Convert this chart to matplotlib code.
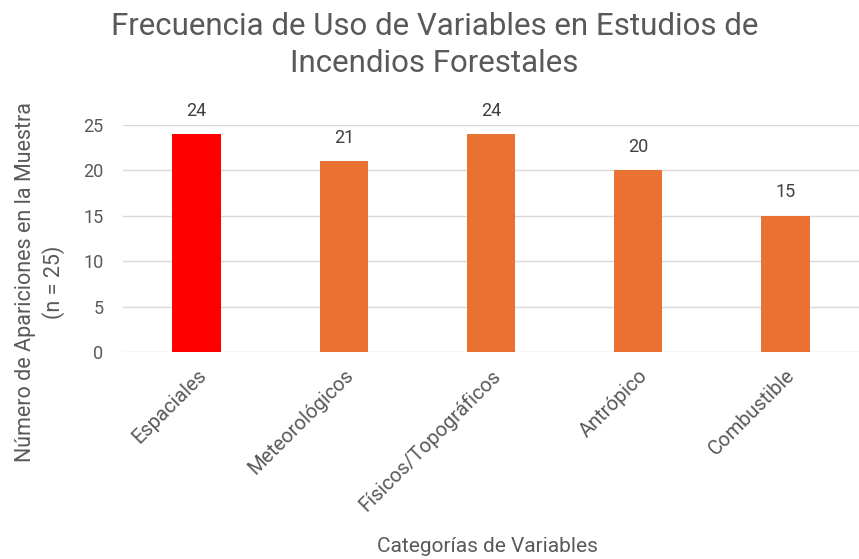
import matplotlib.pyplot as plt
from matplotlib.transforms import ScaledTranslation

# Data
categories = ["Espaciales", "Meteorológicos", "Físicos/Topográficos", "Antrópico", "Combustible"]
values = [24, 21, 24, 20, 15]
colors = ["#FF0000", "#E97132", "#E97132", "#E97132", "#E97132"]
y_ticks = [0, 5, 10, 15, 20, 25]

plt.rcParams['font.family'] = ['Roboto', 'DejaVu Sans']
text_col = "#595959"

fig = plt.figure(figsize=(8.59, 5.59), dpi=100)
ax = fig.add_axes([123/859, 1 - 352/559, (859 - 123)/859, (352 - 125)/559])

x = list(range(len(categories)))
bars = ax.bar(x, values, width=0.33, color=colors, zorder=3)
for b, v in zip(bars, values):
    ax.text(b.get_x() + b.get_width()/2, v + 1.6, str(v), ha='center', va='bottom',
            fontsize=13, color="#404040")

ax.set_xlim(-0.5, len(categories) - 0.5)
ax.set_ylim(0, 25)
ax.set_yticks(y_ticks)
ax.set_yticklabels([str(t) for t in y_ticks], fontsize=13, color=text_col)
ax.set_xticks(x)
ax.set_xticklabels(categories, rotation=45, ha='right', rotation_mode='anchor',
                   fontsize=14.5, color=text_col)
# shift rotated labels a little right, like the original
for lbl in ax.get_xticklabels():
    lbl.set_transform(lbl.get_transform() + ScaledTranslation(8/100, 0, fig.dpi_scale_trans))
ax.tick_params(axis='both', length=0)
ax.tick_params(axis='y', pad=14)
ax.tick_params(axis='x', pad=10)
ax.grid(axis='y', color="#D9D9D9", linewidth=1, zorder=0)
for s in ax.spines.values():
    s.set_visible(False)

fig.text(0.506, 1 - 12/559, "Frecuencia de Uso de Variables en Estudios de\nIncendios Forestales",
         ha='center', va='top', fontsize=22.5, color=text_col, linespacing=1.35)
fig.text(0.047, 0.495, "Número de Apariciones en la Muestra\n(n = 25)", ha='center', va='center',
         rotation=90, fontsize=15.5, color=text_col, linespacing=1.35)
fig.text(0.568, 1 - 546/559, "Categorías de Variables", ha='center', va='center', fontsize=15,
         color=text_col)

fig.savefig("out.png", dpi=100)
